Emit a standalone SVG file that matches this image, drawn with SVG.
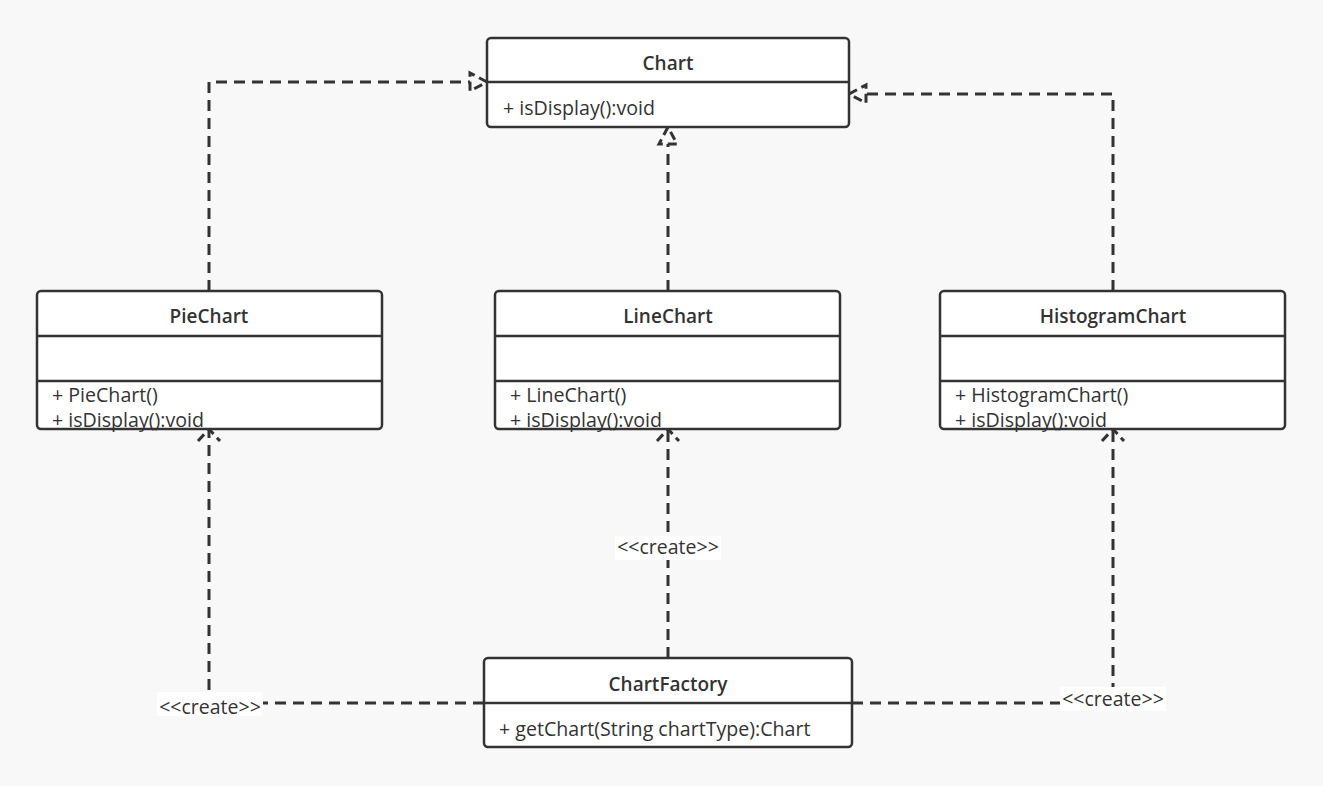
<svg xmlns="http://www.w3.org/2000/svg" width="1323" height="786" viewBox="0 0 1323 786">
  <style>
    .box { fill: #ffffff; stroke: #333333; stroke-width: 2.5; }
    .div { stroke: #333333; stroke-width: 2.5; }
    .title { font-family: "Open Sans", "Liberation Sans", Arial, sans-serif; font-size: 19px; font-weight: 600; fill: #333333; text-anchor: middle; }
    .member { font-family: "Open Sans", "Liberation Sans", Arial, sans-serif; font-size: 19.6px; fill: #333333; }
    .edge { fill: none; stroke: #333333; stroke-width: 3; stroke-dasharray: 11 7; }
    .head { fill: none; stroke: #333333; stroke-width: 3; stroke-dasharray: 9 5; }
    .lblbg { fill: #ffffff; }
    .lbl { font-family: "Open Sans", "Liberation Sans", Arial, sans-serif; font-size: 19.5px; fill: #333333; text-anchor: middle; }
  </style>
  <rect width="1323" height="786" fill="#f8f8f8"/>

  <!-- connectors -->
  <g id="connectors">
    <!-- realizations to Chart -->
    <path class="edge" d="M209,291 V82 H470"/>
    <path class="head" d="M487,82 L470,73 V91 Z"/>
    <path class="edge" d="M668,291 V144"/>
    <path class="head" d="M668,127 L659,144 H677 Z"/>
    <path class="edge" d="M1113,291 V94 H866"/>
    <path class="head" d="M849,94 L866,85 V103 Z"/>
    <!-- create dependencies from ChartFactory -->
    <path class="edge" d="M484,703 H209 V431"/>
    <path class="head" d="M198,441 L209,429 L220,441"/>
    <path class="edge" d="M668,658 V431"/>
    <path class="head" d="M657,441 L668,429 L679,441"/>
    <path class="edge" d="M852,703 H1113 V431"/>
    <path class="head" d="M1102,441 L1113,429 L1124,441"/>
    <!-- stereotype labels -->
    <rect class="lblbg" x="157" y="692" width="106" height="24"/>
    <text class="lbl" x="210" y="714">&lt;&lt;create&gt;&gt;</text>
    <rect class="lblbg" x="615" y="536" width="106" height="24"/>
    <text class="lbl" x="668" y="554">&lt;&lt;create&gt;&gt;</text>
    <rect class="lblbg" x="1060" y="687" width="106" height="24"/>
    <text class="lbl" x="1113" y="706">&lt;&lt;create&gt;&gt;</text>
  </g>

  <g id="Chart">
    <rect class="box" x="487" y="38" width="362" height="89" rx="4"/>
    <line class="div" x1="487" y1="82" x2="849" y2="82"/>
    <text class="title" x="668" y="70">Chart</text>
    <text class="member" x="503" y="115">+ isDisplay():void</text>
  </g>

  <g id="PieChart">
    <rect class="box" x="37" y="291" width="345" height="138" rx="4"/>
    <line class="div" x1="37" y1="336" x2="382" y2="336"/>
    <line class="div" x1="37" y1="381" x2="382" y2="381"/>
    <text class="title" x="209" y="323">PieChart</text>
    <text class="member" x="52" y="402">+ PieChart()</text>
    <text class="member" x="52" y="427">+ isDisplay():void</text>
  </g>

  <g id="LineChart">
    <rect class="box" x="495" y="291" width="345" height="138" rx="4"/>
    <line class="div" x1="495" y1="336" x2="840" y2="336"/>
    <line class="div" x1="495" y1="381" x2="840" y2="381"/>
    <text class="title" x="668" y="323">LineChart</text>
    <text class="member" x="510" y="402">+ LineChart()</text>
    <text class="member" x="510" y="427">+ isDisplay():void</text>
  </g>

  <g id="HistogramChart">
    <rect class="box" x="940" y="291" width="345" height="138" rx="4"/>
    <line class="div" x1="940" y1="336" x2="1285" y2="336"/>
    <line class="div" x1="940" y1="381" x2="1285" y2="381"/>
    <text class="title" x="1113" y="323">HistogramChart</text>
    <text class="member" x="955" y="402">+ HistogramChart()</text>
    <text class="member" x="955" y="427">+ isDisplay():void</text>
  </g>

  <g id="ChartFactory">
    <rect class="box" x="484" y="658" width="368" height="89" rx="4"/>
    <line class="div" x1="484" y1="703" x2="852" y2="703"/>
    <text class="title" x="668" y="691">ChartFactory</text>
    <text class="member" x="499" y="736">+ getChart(String chartType):Chart</text>
  </g>
</svg>
